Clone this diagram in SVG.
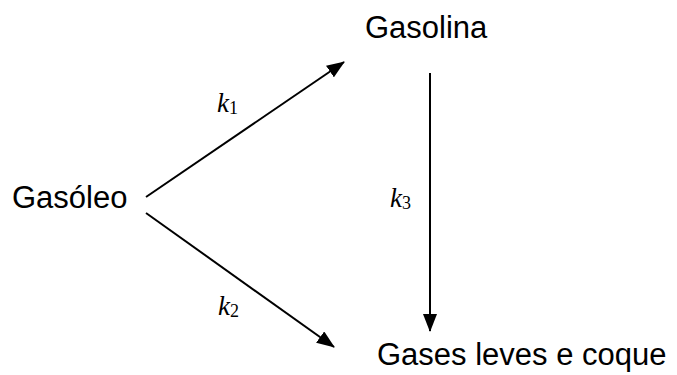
<svg xmlns="http://www.w3.org/2000/svg" width="677" height="375" viewBox="0 0 677 375">
<style>
.lbl{font-family:"Liberation Sans",Arial,sans-serif;font-size:31px;fill:#000}
.k{font-family:"Liberation Serif","DejaVu Serif",serif;font-style:italic;font-size:27px;fill:#000}
.sub{font-style:normal;font-size:18px}
.edge{stroke:#000;stroke-width:2;fill:none}
</style>
<defs>
<marker id="ah" markerWidth="18" markerHeight="14" refX="17" refY="7" orient="auto" markerUnits="userSpaceOnUse">
<path d="M0,0 L18,7 L0,14 Z" fill="#000"/>
</marker>
</defs>
<rect width="677" height="375" fill="#fff"/>
<g id="gasoleo"><text class="lbl" x="12" y="208">Gasóleo</text></g>
<g id="gasolina"><text class="lbl" x="365" y="38">Gasolina</text></g>
<g id="gases"><text class="lbl" x="377" y="365">Gases leves e coque</text></g>
<g id="connectors">
<line class="edge" x1="146" y1="197" x2="344" y2="62" marker-end="url(#ah)"/>
<line class="edge" x1="146" y1="213" x2="334" y2="347" marker-end="url(#ah)"/>
<line class="edge" x1="430" y1="73" x2="430" y2="331" marker-end="url(#ah)"/>
<text class="k" x="217" y="112">k<tspan class="sub" dy="2">1</tspan></text>
<text class="k" x="218" y="315">k<tspan class="sub" dy="2">2</tspan></text>
<text class="k" x="390" y="207">k<tspan class="sub" dy="2">3</tspan></text>
</g>
</svg>
